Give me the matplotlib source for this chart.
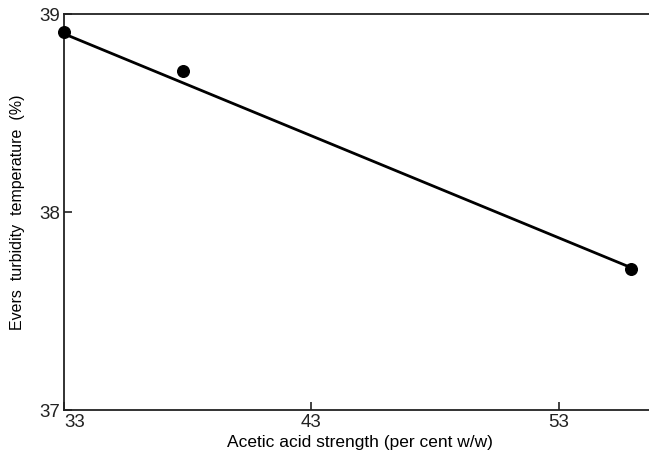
import matplotlib
matplotlib.use("Agg")
import matplotlib.pyplot as plt
import numpy as np

acid_strength = [33.0, 37.8, 55.9]
turbidity_temp = [38.91, 38.71, 37.71]
fit_x = [33.0, 55.7]
fit_y = [38.90, 37.73]
x_ticks = [33, 43, 53]
y_ticks = [37, 38, 39]

plt.rcParams['font.family'] = ['Liberation Sans', 'DejaVu Sans']
fig = plt.figure(figsize=(6.49, 4.61), dpi=100)
ax = fig.add_axes([64/649, 1-410/461, 1-64/649+0.01, (410-14)/461])
ax.plot(fit_x, fit_y, color='black', lw=2.0, zorder=2)
ax.scatter(acid_strength, turbidity_temp, s=70, color='black', zorder=3, clip_on=False)
ax.set_xlim(33, 56.9)
ax.set_ylim(37, 39)
ax.set_xticks(x_ticks)
ax.set_yticks(y_ticks)
ax.set_xticklabels([str(t) for t in x_ticks], fontsize=13.5)
ax.set_yticklabels([str(t) for t in y_ticks], fontsize=13.5)
lbls = ax.get_xticklabels()
lbls[0].set_ha('left')
ax.tick_params(direction='in', length=6, width=1.2, pad=3, colors='#222222')
for s in ['left', 'bottom', 'top']:
    ax.spines[s].set_linewidth(1.3)
    ax.spines[s].set_color('#222222')
ax.spines['right'].set_visible(False)
ax.set_xlabel('Acetic acid strength (per cent w/w)', fontsize=12.5, labelpad=3)
ax.set_ylabel('Evers  turbidity  temperature  (%)', fontsize=11.5, labelpad=10)
fig.savefig('out.png', dpi=100)
